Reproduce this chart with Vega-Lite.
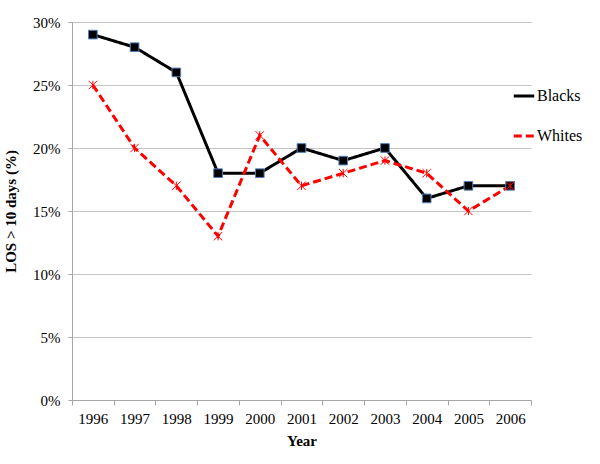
{
  "$schema": "https://vega.github.io/schema/vega-lite/v6.json",
  "autosize": {"type": "none"},
  "width": 459,
  "height": 378,
  "padding": {"left": 72, "top": 22, "right": 69, "bottom": 64},
  "background": "white",
  "config": {
    "font": "Liberation Serif",
    "view": {"stroke": null},
    "axis": {"labelFont": "Liberation Serif", "titleFont": "Liberation Serif", "labelFontSize": 15, "titleFontSize": 15, "labelColor": "#000", "titleColor": "#000", "domainColor": "#a6a6a6", "tickColor": "#a6a6a6", "gridColor": "#c4c4c4"},
    "legend": {"labelFont": "Liberation Serif", "labelFontSize": 16, "labelColor": "#000"}
  },
  "data": {"values": [
    {"year": "1996", "group": "Blacks", "value": 29},
    {"year": "1997", "group": "Blacks", "value": 28},
    {"year": "1998", "group": "Blacks", "value": 26},
    {"year": "1999", "group": "Blacks", "value": 18},
    {"year": "2000", "group": "Blacks", "value": 18},
    {"year": "2001", "group": "Blacks", "value": 20},
    {"year": "2002", "group": "Blacks", "value": 19},
    {"year": "2003", "group": "Blacks", "value": 20},
    {"year": "2004", "group": "Blacks", "value": 16},
    {"year": "2005", "group": "Blacks", "value": 17},
    {"year": "2006", "group": "Blacks", "value": 17},
    {"year": "1996", "group": "Whites", "value": 25},
    {"year": "1997", "group": "Whites", "value": 20},
    {"year": "1998", "group": "Whites", "value": 17},
    {"year": "1999", "group": "Whites", "value": 13},
    {"year": "2000", "group": "Whites", "value": 21},
    {"year": "2001", "group": "Whites", "value": 17},
    {"year": "2002", "group": "Whites", "value": 18},
    {"year": "2003", "group": "Whites", "value": 19},
    {"year": "2004", "group": "Whites", "value": 18},
    {"year": "2005", "group": "Whites", "value": 15},
    {"year": "2006", "group": "Whites", "value": 17}
  ]},
  "encoding": {
    "x": {
      "field": "year", "type": "ordinal", "title": "Year",
      "scale": {"type": "band", "paddingInner": 0, "paddingOuter": 0},
      "axis": {"labelAngle": 0, "tickBand": "extent", "tickSize": 5, "labelPadding": 6, "titleFontWeight": "bold", "titlePadding": 7, "grid": false}
    },
    "y": {
      "field": "value", "type": "quantitative", "title": "LOS > 10 days (%)",
      "scale": {"domain": [0, 30], "nice": false},
      "axis": {"values": [0, 5, 10, 15, 20, 25, 30], "labelExpr": "datum.value + '%'", "tickSize": 4, "labelPadding": 8, "titleFontWeight": "bold", "titlePadding": 14, "grid": true}
    }
  },
  "layer": [
    {
      "mark": {"type": "line", "strokeWidth": 3},
      "encoding": {
        "color": {"field": "group", "type": "nominal", "title": null,
          "scale": {"domain": ["Blacks", "Whites"], "range": ["#000000", "#ff0000"]},
          "legend": {"orient": "none", "legendX": 440, "legendY": 62, "symbolType": "stroke", "symbolStrokeWidth": 3, "symbolSize": 420, "rowPadding": 20, "labelOffset": 1, "labelFont": "Liberation Serif", "labelFontSize": 16}},
        "strokeDash": {"field": "group", "type": "nominal", "title": null,
          "scale": {"domain": ["Blacks", "Whites"], "range": [[1, 0], [8, 4]]},
          "legend": {"orient": "none", "legendX": 440, "legendY": 62, "symbolType": "stroke", "symbolStrokeWidth": 3, "symbolSize": 420, "rowPadding": 20, "labelOffset": 1, "labelFont": "Liberation Serif", "labelFontSize": 16}}
      }
    },
    {
      "transform": [{"filter": "datum.group === 'Blacks'"}],
      "mark": {"type": "point", "shape": "square", "filled": true, "fill": "#000000", "stroke": "#4f81bd", "strokeWidth": 1, "size": 75, "opacity": 1}
    },
    {
      "transform": [{"filter": "datum.group === 'Whites'"}],
      "mark": {"type": "point", "shape": "M-1,-1L1,1M-1,1L1,-1M0,-1L0,1", "filled": false, "stroke": "#ff0000", "strokeWidth": 1, "size": 70, "opacity": 1}
    }
  ]
}
